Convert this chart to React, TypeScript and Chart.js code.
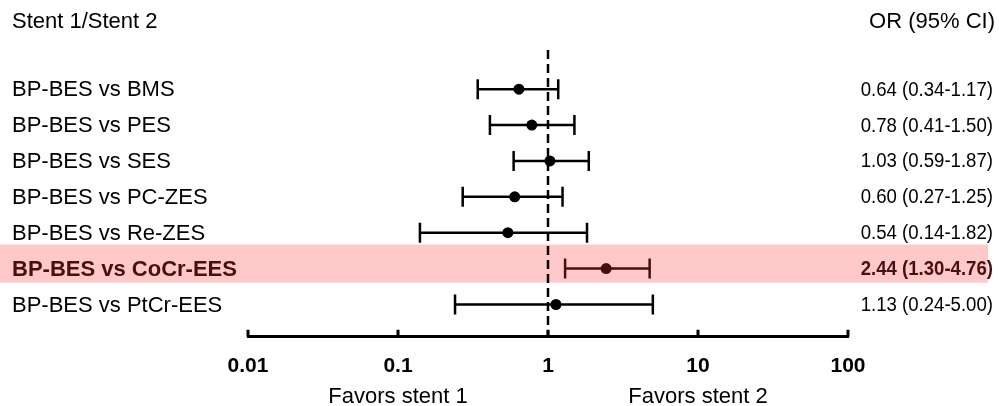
import React, { useEffect, useRef } from 'react';
import { Chart, registerables } from 'chart.js';

Chart.register(...registerables);

const comparisons = [
  'BP-BES vs BMS',
  'BP-BES vs PES',
  'BP-BES vs SES',
  'BP-BES vs PC-ZES',
  'BP-BES vs Re-ZES',
  'BP-BES vs CoCr-EES',
  'BP-BES vs PtCr-EES',
];
const oddsRatios = [0.64, 0.78, 1.03, 0.6, 0.54, 2.44, 1.13];
const ciLower = [0.34, 0.41, 0.59, 0.27, 0.14, 1.3, 0.24];
const ciUpper = [1.17, 1.5, 1.87, 1.25, 1.82, 4.76, 5.0];
const xTicks = [0.01, 0.1, 1, 10, 100];
const highlightIndex = 5;

const FONT = "'Liberation Sans', Arial, sans-serif";
const HL_TEXT = '#4a0e0e';
const HL_BAND = '#ffc9c9';

const forestPlugin = {
  id: 'forest',
  beforeDatasetsDraw(chart: any) {
    const { ctx, chartArea, scales } = chart;
    const xs = scales.x;
    const ys = scales.y;
    ctx.save();
    // highlight band
    const bTop = ys.getPixelForValue(highlightIndex - 0.67);
    const bBot = ys.getPixelForValue(highlightIndex + 0.39);
    ctx.fillStyle = HL_BAND;
    ctx.fillRect(0, bTop, 988, bBot - bTop);
    // reference line at OR = 1
    const x1 = xs.getPixelForValue(1);
    ctx.strokeStyle = '#000';
    ctx.lineWidth = 2.5;
    ctx.setLineDash([9, 5]);
    ctx.beginPath();
    ctx.moveTo(x1, chartArea.top);
    ctx.lineTo(x1, chartArea.bottom);
    ctx.stroke();
    ctx.setLineDash([]);
    // error bars
    for (let i = 0; i < oddsRatios.length; i++) {
      const y = ys.getPixelForValue(i);
      const lo = xs.getPixelForValue(ciLower[i]);
      const hi = xs.getPixelForValue(ciUpper[i]);
      ctx.strokeStyle = i === highlightIndex ? HL_TEXT : '#000';
      ctx.lineWidth = 2.5;
      ctx.beginPath();
      ctx.moveTo(lo, y);
      ctx.lineTo(hi, y);
      ctx.moveTo(lo, y - 10);
      ctx.lineTo(lo, y + 10);
      ctx.moveTo(hi, y - 10);
      ctx.lineTo(hi, y + 10);
      ctx.stroke();
    }
    ctx.restore();
  },
  afterDraw(chart: any) {
    const { ctx, chartArea, scales } = chart;
    const xs = scales.x;
    const ys = scales.y;
    ctx.save();
    // tick marks pointing up
    ctx.strokeStyle = '#000';
    ctx.lineWidth = 3;
    ctx.beginPath();
    for (const t of xTicks) {
      const px = xs.getPixelForValue(t);
      ctx.moveTo(px, chartArea.bottom - 7);
      ctx.lineTo(px, chartArea.bottom);
    }
    ctx.stroke();

    // headers
    ctx.fillStyle = '#000';
    ctx.font = `22px ${FONT}`;
    ctx.textBaseline = 'alphabetic';
    ctx.textAlign = 'left';
    ctx.fillText('Stent 1/Stent 2', 12, 28);
    ctx.textAlign = 'right';
    ctx.fillText('OR (95% CI)', 995, 28);

    // row labels and values
    for (let i = 0; i < comparisons.length; i++) {
      const y = ys.getPixelForValue(i);
      const hl = i === highlightIndex;
      ctx.fillStyle = hl ? HL_TEXT : '#000';
      ctx.font = `${hl ? 'bold ' : ''}22px ${FONT}`;
      ctx.textBaseline = 'middle';
      ctx.textAlign = 'left';
      ctx.fillText(comparisons[i], 12, y + 1);
      const txt = `${oddsRatios[i].toFixed(2)} (${ciLower[i].toFixed(2)}-${ciUpper[i].toFixed(2)})`;
      ctx.save();
      ctx.font = `${hl ? 'bold ' : ''}20px ${FONT}`;
      ctx.textAlign = 'right';
      const sx = 0.93;
      ctx.scale(sx, 1);
      ctx.fillText(txt, 993 / sx, y + 1);
      ctx.restore();
    }

    // favors labels
    ctx.fillStyle = '#000';
    ctx.font = `22px ${FONT}`;
    ctx.textAlign = 'center';
    ctx.textBaseline = 'alphabetic';
    ctx.fillText('Favors stent 1', xs.getPixelForValue(0.1), 403);
    ctx.fillText('Favors stent 2', xs.getPixelForValue(10), 403);
    ctx.restore();
  },
};

export default function App() {
  const ref = useRef<HTMLCanvasElement>(null);
  useEffect(() => {
    if (!ref.current) return;
    const chart = new Chart(ref.current, {
      type: 'scatter',
      data: {
        datasets: [
          {
            data: oddsRatios.map((v, i) => ({ x: v, y: i })),
            pointRadius: 5.5,
            pointHoverRadius: 5.5,
            pointBorderWidth: 0,
            pointBackgroundColor: oddsRatios.map((_, i) => (i === highlightIndex ? HL_TEXT : '#000')),
            pointBorderColor: oddsRatios.map((_, i) => (i === highlightIndex ? HL_TEXT : '#000')),
          },
        ],
      },
      options: {
        responsive: false,
        animation: false,
        devicePixelRatio: 1,
        layout: { padding: { left: 248, right: 151, top: 50, bottom: 10 } },
        plugins: { legend: { display: false }, tooltip: { enabled: false } },
        scales: {
          x: {
            type: 'logarithmic',
            min: 0.01,
            max: 100,
            afterBuildTicks: (scale: any) => {
              scale.ticks = xTicks.map((v) => ({ value: v, major: true }));
            },
            grid: { display: false, drawTicks: false },
            border: { display: true, color: '#000', width: 3 },
            ticks: {
              color: '#000',
              padding: 17,
              autoSkip: false,
              maxRotation: 0,
              font: { family: FONT, size: 21, weight: 'bold' },
              callback: (v: any) => String(v),
            },
          },
          y: {
            type: 'linear',
            reverse: true,
            min: -1.09,
            max: 6.9,
            display: false,
          },
        },
      },
      plugins: [forestPlugin],
    } as any);
    return () => chart.destroy();
  }, []);
  return (
    <div style={{ position: 'fixed', left: 0, top: 0, width: 999, height: 406, background: '#fff' }}>
      <canvas ref={ref} width={999} height={406} />
    </div>
  );
}
